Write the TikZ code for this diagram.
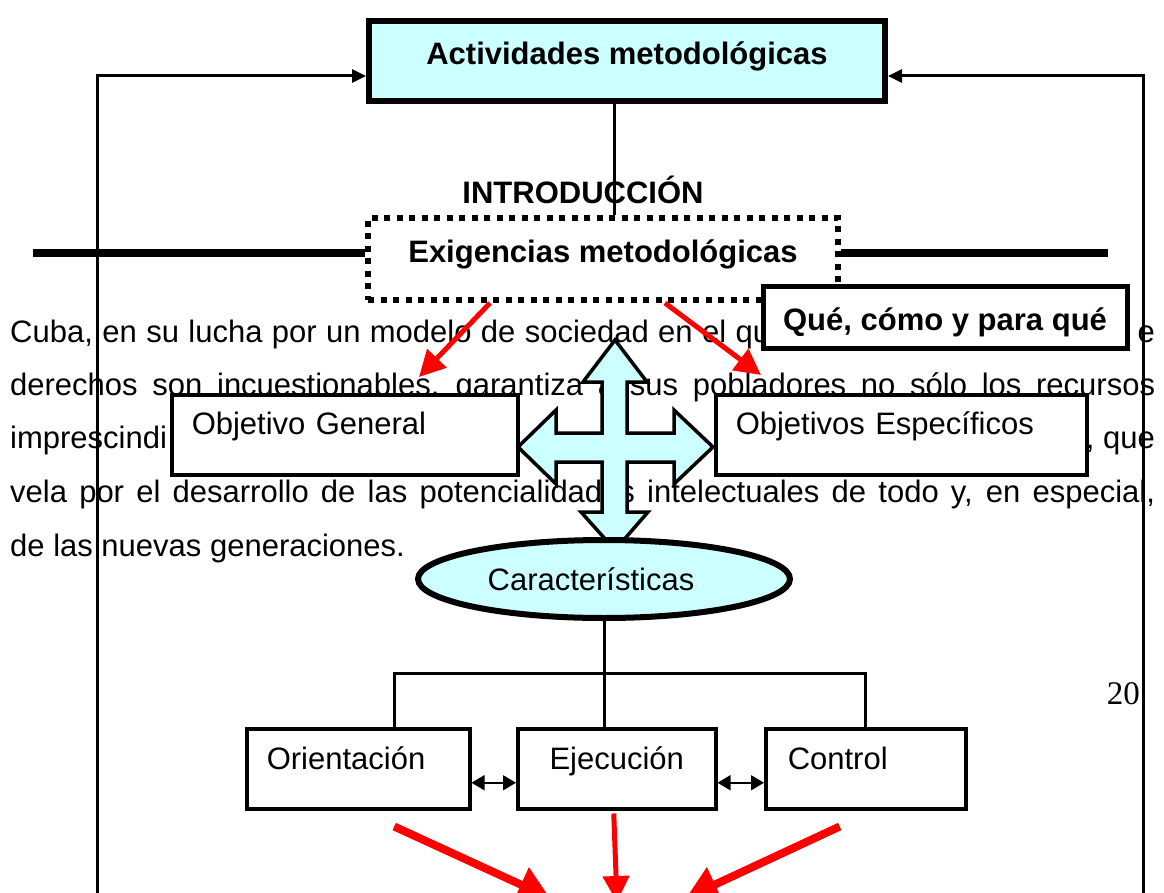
\documentclass[tikz,border=0pt]{standalone}
\usepackage{fontspec}
\setmainfont{Liberation Sans}
\newfontfamily\seriffnt{Liberation Serif}
\usetikzlibrary{arrows.meta,shapes.geometric}
\definecolor{lcyan}{HTML}{CCFFFF}
\definecolor{rred}{HTML}{FF0000}
\begin{document}
\begin{tikzpicture}[x=1pt,y=-1pt,
  para/.style={font=\fontsize{31}{36}\selectfont, inner sep=0pt, anchor=base west},
  lbl/.style={font=\fontsize{31}{36}\selectfont},
  blbl/.style={font=\fontsize{31}{36}\selectfont\bfseries},
  conn/.style={line width=3pt, black},
  fb/.style={line width=3pt, black, -{Triangle[length=14pt,width=13pt]}},
  thickline/.style={line width=8pt, black},
  plainbox/.style={draw, line width=3.5pt, fill=white, inner ysep=0pt, text height=40pt, text depth=40pt, anchor=north west, align=left, lbl},
  lowbox/.style={draw, line width=3.5pt, fill=white, inner ysep=0pt, text height=41pt, text depth=39pt, anchor=north west, lbl},
  redarrow/.style={line width=5pt, rred, -{Triangle[length=26pt,width=26pt]}},
  redbig/.style={line width=8pt, rred, -{Triangle[length=32pt,width=36pt]}},
  dbl/.style={line width=1.5pt, black, {Triangle[length=13pt,width=15pt]}-{Triangle[length=13pt,width=15pt]}}
]
\fill[white] (0,0) rectangle (1164,893);
\clip (0,0) rectangle (1164,893);

% paragraph text
\node[para] (p1) at (10,342) {\makebox[760pt][s]{Cuba, en su lucha por un modelo de sociedad en el qu}};
\node[para, anchor=base east] (p1e) at (1155,342) {e};
\node[para] (p2) at (10,395) {\makebox[1145pt][s]{derechos son incuestionables, garantiza a sus pobladores no sólo los recursos}};
\node[para] (p3a) at (10,448) {imprescindi};
\node[para, anchor=base east] (p3b) at (1155,448) {, que};
\node[para] (p4) at (10,502) {\makebox[1145pt][s]{vela por el desarrollo de las potencialidades intelectuales de todo y, en especial,}};
\node[para] (p5) at (10,556) {de las nuevas generaciones.};
\node[font=\seriffnt\fontsize{33}{36}\selectfont, anchor=base east, inner sep=0pt] (pg) at (1140,704) {20};

% title text
\node[blbl, anchor=base, inner sep=0pt] (intro) at (583,204) {INTRODUCCIÓN};

% main boxes
\node[draw, line width=6pt, fill=lcyan, blbl, minimum width=516pt, inner ysep=0pt, text height=44pt, text depth=36pt, anchor=north] (act) at (627,18) {Actividades metodológicas};
\node[draw, line width=6pt, dash pattern=on 6pt off 6.5pt, fill=white, blbl, minimum width=470pt, inner ysep=0pt, text height=45pt, text depth=37pt, anchor=north] (exig) at (603,215) {Exigencias metodológicas};

% feedback lines
\coordinate (fbL) at (97,900);
\coordinate (fbR) at (1143,900);
\draw[fb] (fbL) |- ([yshift=-15pt]act.west);
\draw[fb] (fbR) |- ([yshift=-15pt]act.east);
\draw[conn] ([xshift=-13pt]act.south) -- ([xshift=11pt]exig.north);

% thick horizontal lines
\coordinate (tl) at (33,253);
\coordinate (tr) at (1108,253);
\draw[thickline] (exig.west |- tl) -- (tl);
\draw[thickline] (exig.east |- tr) -- (tr);

\node[draw, line width=5pt, fill=white, blbl, minimum width=364pt, inner ysep=0pt, text height=44pt, text depth=18pt, anchor=north] (que) at (945,284) {Qué, cómo y para qué};

\node[plainbox, text width=306pt, inner xsep=20pt] (objg) at (170,393) {Objetivo General};
\node[plainbox, text width=331pt, inner xsep=20pt] (obje) at (714,393) {Objetivos Específicos};

% cross arrow
\draw[line width=3.5pt, fill=lcyan, line join=miter]
  (615,340) -- (647,382) -- (627,382) -- (627,433) -- (674,433) -- (674,410) -- (713,447)
  -- (674,484) -- (674,462) -- (627,462) -- (627,512) -- (648,512) -- (615,550)
  -- (581,512) -- (602,512) -- (602,462) -- (556,462) -- (556,484) -- (518,447)
  -- (556,410) -- (556,433) -- (602,433) -- (602,382) -- (583,382) -- cycle;

% characteristics
\node[ellipse, draw, line width=6pt, fill=lcyan, minimum width=372pt, minimum height=78pt, inner sep=0pt, lbl] (car) at (604,579) {Características\hspace*{26pt}};

\node[lowbox, text width=183pt, inner xsep=20pt, align=left] (orient) at (245,727) {Orientación};
\node[lowbox, minimum width=198pt, inner xsep=0pt] (ejec) at (516,727) {Ejecución};
\node[lowbox, text width=156pt, inner xsep=22pt, align=left] (ctrl) at (764,727) {Control};

\coordinate (bus) at (604,673);
\draw[conn] (car.south) -- (car.south |- ejec.north);
\draw[conn] ([xshift=36pt]orient.north) |- (bus) -| (ctrl.north);

\draw[dbl] ([yshift=-14pt]orient.east) -- ([yshift=-14pt]ejec.west);
\draw[dbl] ([yshift=-14pt]ejec.east) -- ([yshift=-14pt]ctrl.west);

% red arrows
\coordinate (rt1) at (419,377);
\coordinate (rt2) at (761,375);
\draw[redarrow] ([xshift=-113pt]exig.south) -- (rt1);
\draw[redarrow] ([xshift=62pt]exig.south) -- (rt2);
\coordinate (rb1) at (550,898);
\coordinate (rb2) at (617,902);
\coordinate (rb3) at (686,898);
\draw[redbig] ([xshift=36pt,yshift=-16pt]orient.south) -- (rb1);
\draw[redarrow] ([xshift=-3pt,yshift=-3pt]ejec.south) -- (rb2);
\draw[redbig] ([xshift=-26pt,yshift=-16pt]ctrl.south) -- (rb3);
\end{tikzpicture}
\end{document}
